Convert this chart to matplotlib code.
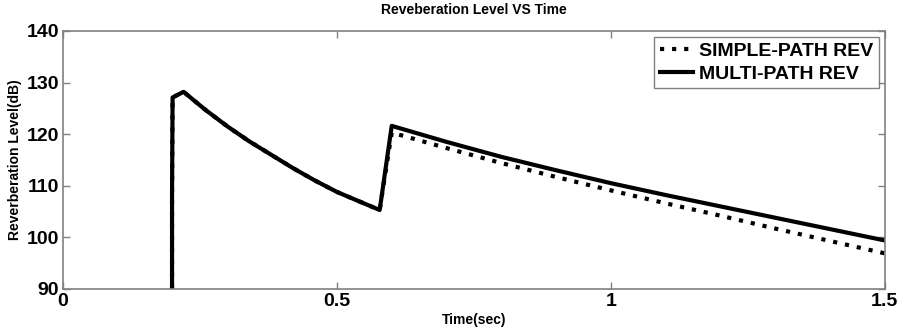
import matplotlib.pyplot as plt

# Data
t_multi = [0.199, 0.199, 0.2, 0.22, 0.26, 0.30, 0.34, 0.38, 0.42, 0.46, 0.50, 0.54, 0.578,
           0.6, 0.7, 0.8, 0.9, 1.0, 1.1, 1.2, 1.3, 1.4, 1.5]
rev_multi = [60, 108.5, 127.1, 128.2, 124.7, 121.5, 118.6, 116.0, 113.4, 111.0, 108.8, 107.0, 105.3,
             121.6, 118.5, 115.6, 113.0, 110.5, 108.2, 106.0, 103.8, 101.6, 99.4]

t_simple = [0.199, 0.199, 0.2, 0.22, 0.26, 0.30, 0.34, 0.38, 0.42, 0.46, 0.50, 0.54, 0.578,
            0.6, 0.7, 0.8, 0.9, 1.0, 1.1, 1.2, 1.3, 1.4, 1.5]
rev_simple = [60, 108.5, 127.1, 128.2, 124.7, 121.5, 118.6, 116.0, 113.4, 111.0, 108.8, 107.0, 105.3,
              120.3, 117.3, 114.4, 111.7, 109.1, 106.6, 104.2, 101.7, 99.3, 96.9]

xticks = [0, 0.5, 1, 1.5]
xtick_labels = ['0', '0.5', '1', '1.5']
yticks = [90, 100, 110, 120, 130, 140]

plt.rcParams['font.family'] = ['Liberation Sans', 'DejaVu Sans']
plt.rcParams['font.weight'] = 'bold'

fig = plt.figure(figsize=(9.03, 3.36), dpi=100)
ax = fig.add_axes([0.0698, 0.140, 0.910, 0.768])

ax.plot(t_simple, rev_simple, color='black', linestyle=(0, (1, 1.9)), linewidth=3, label='SIMPLE-PATH REV')
ax.plot(t_multi, rev_multi, color='black', linestyle='-', linewidth=3, label='MULTI-PATH REV')

ax.set_xlim(0, 1.5)
ax.set_ylim(90, 140)
ax.set_xticks(xticks)
ax.set_xticklabels(xtick_labels)
ax.set_yticks(yticks)
ax.tick_params(axis='both', direction='in', length=5, width=1, colors='#808080',
               labelcolor='black', labelsize=14, top=True, right=True, pad=3)
for spine in ax.spines.values():
    spine.set_color('#808080')
    spine.set_linewidth(1.2)

ax.set_title('Reveberation Level VS Time', fontsize=10, fontweight='bold', pad=12)
ax.set_xlabel('Time(sec)', fontsize=10, fontweight='bold', labelpad=2)
ax.set_ylabel('Reverberation Level(dB)', fontsize=10, fontweight='bold', labelpad=3)

leg = ax.legend(loc='upper right', fontsize=14, frameon=True, fancybox=False,
                handlelength=1.7, handletextpad=0.3, borderpad=0.3, labelspacing=0.25,
                borderaxespad=0.3)
leg.get_frame().set_edgecolor('#606060')
leg.get_frame().set_linewidth(1.0)

fig.savefig('out.png', dpi=100)
